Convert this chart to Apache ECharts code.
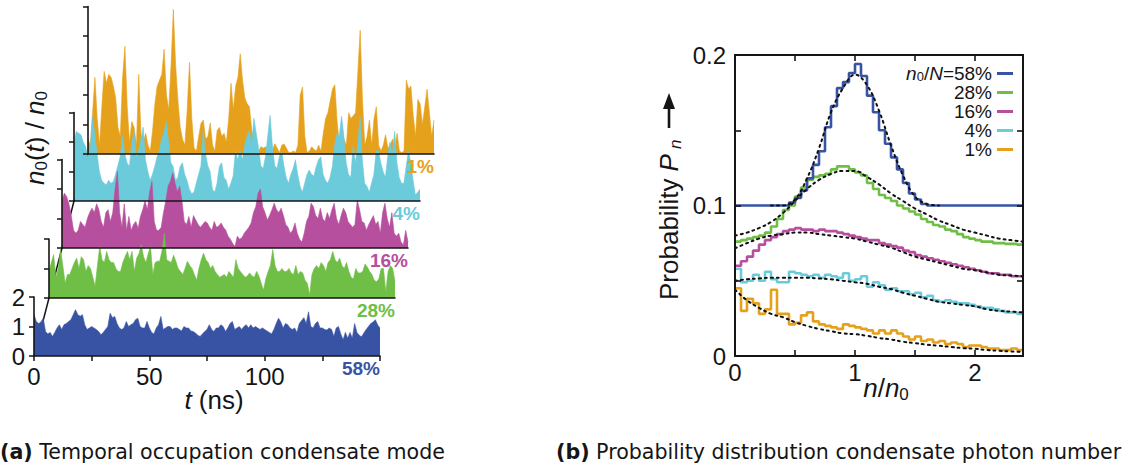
<!DOCTYPE html>
<html>
<head>
<meta charset="utf-8">
<script src="https://cdn.jsdelivr.net/npm/echarts@6/dist/echarts.min.js"></script>
<style>
  html, body { margin: 0; padding: 0; background: #ffffff; }
  #chart { width: 1130px; height: 470px; }
</style>
</head>
<body>
<div id="chart"></div>
<script>
// ---------- (a) condensate occupation n0(t)/n0, sampled every 1 ns from 0 to 150 ns ----------
const TIME_STEP_NS = 1;

const occ1 = [
  0.5,0.3,1.4,2.6,1.2,0.3,1.6,2.8,2.4,2.7,
  2.6,2.3,1.9,0.9,0.6,2.6,3.65,1.6,0.4,1.1,
  0.9,0.3,2.7,0.6,0.4,0.7,0.3,0.1,0.8,1.7,
  2.3,2.5,2.7,3.55,2.0,1.5,3.0,4.9,3.0,1.8,
  0.9,0.5,0.3,1.5,3.1,1.2,0.2,0.1,0.6,1.05,
  1.15,0.5,0.6,1.05,0.3,0.1,0.8,0.9,0.6,0.7,
  0.4,1.2,2.4,1.5,2.3,2.6,3.4,2.5,1.9,1.7,
  1.6,0.8,0.4,0.15,0.1,0.25,0.2,0.25,0.1,0.25,
  0.15,0.35,0.2,0.05,0.3,0.34,0.2,0.05,0.05,0.1,
  0.05,0.3,2.0,2.27,0.6,0.05,0.1,0.25,0.15,0.1,
  0.3,0.1,0.7,1.2,1.4,1.8,2.2,2.35,1.1,0.3,
  0.15,0.5,0.3,1.4,1.2,1.3,1.4,2.8,4.2,1.8,
  0.3,0.6,1.15,0.3,1.2,1.6,0.3,0.1,0.3,0.65,
  0.2,0.3,0.5,0.2,0.7,0.1,0.05,0.1,2.5,2.2,
  2.3,1.3,0.6,1.85,1.7,1.0,1.6,2.2,1.4,0.6,
  1.15
];

const occ4 = [
  2.0,2.36,2.3,2.25,2.0,1.85,1.5,1.7,2.87,2.3,
  1.6,1.0,0.7,0.6,0.55,0.7,0.6,0.65,0.9,1.2,
  1.5,2.2,1.6,1.3,1.17,1.9,2.4,1.5,1.7,2.1,
  2.5,1.4,1.0,0.7,0.9,1.17,1.5,1.7,2.1,2.3,
  2.7,2.0,1.3,1.17,0.7,0.8,1.17,1.3,0.9,0.7,
  0.4,0.25,0.3,0.6,0.9,1.17,2.4,1.6,1.2,1.0,
  0.4,0.3,0.6,1.17,1.3,0.8,0.7,0.4,0.6,0.85,
  1.7,1.4,1.7,1.4,1.9,2.2,2.4,1.9,2.8,2.3,
  1.8,1.2,1.1,1.5,2.2,2.9,1.9,1.2,1.1,1.5,
  1.7,1.2,0.8,0.6,0.9,1.1,1.4,0.9,0.5,0.3,
  0.6,0.9,1.05,0.9,0.85,1.17,1.4,1.5,0.9,0.7,
  0.6,0.8,1.17,1.9,2.3,2.2,2.87,2.2,1.3,0.9,
  0.8,1.9,1.3,1.9,2.87,1.4,0.6,0.5,0.3,0.6,
  0.9,1.7,1.7,1.3,1.0,0.8,1.5,2.0,1.6,2.36,
  1.3,0.8,0.6,0.6,1.17,1.7,1.3,0.7,0.2,0.3,
  0.4
];

const occ16 = [
  1.6,1.86,1.75,1.5,1.1,0.6,0.5,0.6,0.9,0.8,
  0.7,1.0,1.2,1.35,1.2,1.5,1.3,0.9,0.7,1.2,
  1.3,0.9,1.2,2.0,2.6,1.2,0.7,1.5,0.6,1.07,
  0.6,0.8,0.9,0.67,1.07,1.3,1.6,1.3,1.9,2.26,
  0.9,0.6,0.6,0.7,1.2,1.6,2.1,2.26,2.55,2.2,
  1.9,2.1,1.6,0.9,0.8,1.07,0.7,1.1,0.95,0.8,
  0.7,0.8,0.9,0.85,0.7,0.6,0.9,0.7,0.75,0.85,
  0.7,0.6,0.4,0.3,0.15,0.05,0.4,0.3,0.35,0.5,
  0.6,0.7,0.85,1.2,1.4,1.86,2.0,1.4,1.2,0.95,
  1.1,1.3,1.52,1.3,1.2,1.35,1.1,0.8,0.7,0.5,
  0.6,0.85,0.5,0.3,0.2,0.5,0.9,1.07,1.52,1.4,
  1.1,1.0,1.35,1.0,0.9,1.2,1.0,1.3,1.52,1.0,
  0.8,1.1,1.35,1.2,0.9,0.8,0.7,0.8,1.63,1.3,
  0.9,0.85,0.6,0.8,0.95,1.1,0.8,0.9,0.5,1.2,
  1.52,1.0,0.7,1.2,0.5,0.4,0.5,0.2,0.1,0.6,
  0.2
];

const occ28 = [
  0.9,1.2,1.47,0.7,1.0,1.64,1.1,0.5,0.8,0.8,
  1.0,1.2,1.35,1.0,1.4,1.3,0.9,1.1,1.0,0.7,
  0.4,1.1,1.75,1.3,1.2,1.58,1.3,1.2,1.2,1.0,
  0.9,0.9,1.2,1.4,1.58,1.3,1.58,0.9,1.35,1.5,
  1.8,1.4,1.2,1.5,1.75,0.8,1.2,1.25,1.25,1.6,
  2.2,1.3,1.25,1.2,1.45,1.25,1.0,0.9,0.8,1.0,
  1.25,1.1,1.0,0.8,0.6,1.0,1.3,1.52,1.3,1.2,
  1.0,1.1,0.9,0.8,0.7,0.75,0.8,0.7,0.9,0.8,
  0.7,1.3,1.0,0.9,0.8,0.7,0.75,0.85,0.75,0.7,
  0.9,0.75,0.5,0.27,0.65,0.9,1.1,1.64,1.1,0.9,
  0.9,1.0,0.9,0.9,1.0,0.85,0.8,1.1,0.8,0.9,
  0.85,0.6,0.5,0.1,0.8,1.0,1.1,1.0,1.2,1.1,
  0.9,1.2,1.3,1.58,1.3,1.2,1.35,1.1,1.0,1.2,
  0.9,0.7,0.65,1.0,0.85,0.85,0.9,1.15,1.05,0.9,
  0.8,0.6,0.55,0.65,1.0,1.0,0.2,0.9,1.1,1.0,
  0.55
];

const occ58 = [
  1.4,1.17,1.1,1.15,1.28,0.83,0.75,0.8,0.66,0.8,
  0.95,1.06,0.9,1.06,1.1,1.17,1.23,1.4,1.57,1.4,
  1.35,1.4,1.06,0.9,0.95,1.0,0.95,0.9,0.83,0.72,
  0.8,0.9,1.0,1.45,1.3,1.34,1.1,0.95,0.9,0.95,
  1.17,1.0,1.06,1.1,1.23,1.28,1.0,0.95,0.95,1.17,
  0.95,0.8,0.75,0.95,1.06,1.34,0.9,0.95,1.0,1.0,
  0.9,0.95,0.95,0.9,0.85,1.0,0.95,0.95,0.85,0.83,
  0.78,0.7,0.66,0.75,0.83,0.9,1.06,0.9,0.83,0.95,
  0.95,1.06,1.0,0.83,0.95,1.1,1.17,0.9,0.95,1.0,
  0.9,1.0,1.06,0.95,1.06,0.95,1.0,0.95,0.9,0.95,
  0.9,0.85,0.8,0.75,0.9,1.1,1.28,1.15,0.95,1.1,
  1.06,0.95,0.9,0.95,0.8,1.1,1.2,1.3,1.1,1.5,
  1.0,0.95,1.1,1.17,0.95,0.95,0.9,0.88,0.95,0.9,
  0.66,0.95,1.0,0.75,0.55,0.8,0.6,0.8,0.6,1.1,
  0.8,0.7,0.65,0.78,0.9,1.0,1.1,1.15,1.23,1.05,
  0.95
];

const traceNames = ['1%', '4%', '16%', '28%', '58%'];          // back to front
const traceValues = [occ1, occ4, occ16, occ28, occ58];
const timeTicks = [0, 50, 100];
const occTicksMax = [5, 3, 3, 2, 2];

// ---------- (b) photon number distributions, histogram bins of width 0.05 in n/n0 ----------
const binEdges = [
  0,0.05,0.1,0.15,0.2,0.25,0.3,0.35,0.4,0.45,0.5,0.55,0.6,0.65,0.7,0.75,
  0.8,0.85,0.9,0.95,1,1.05,1.1,1.15,1.2,1.25,1.3,1.35,1.4,1.45,1.5,1.55,
  1.6,1.65,1.7,1.75,1.8,1.85,1.9,1.95,2,2.05,2.1,2.15,2.2,2.25,2.3,2.35,2.4
];

const hist58 = [
  0.1,0.1,0.1,0.1,0.1,0.1,0.1,0.1,0.1,0.102,
  0.105,0.110,0.118,0.127,0.136,0.152,0.166,0.178,0.182,0.188,
  0.194,0.186,0.173,0.162,0.150,0.141,0.132,0.124,0.115,0.108,
  0.104,0.101,0.1,0.1,0.1,0.1,0.1,0.1,0.1,0.1,
  0.1,0.1,0.1,0.1,0.1,0.1,0.1,0.1
];
const hist28 = [
  0.076,0.077,0.078,0.079,0.080,0.082,0.086,0.091,0.097,0.100,
  0.106,0.112,0.117,0.119,0.120,0.121,0.124,0.126,0.126,0.124,
  0.122,0.120,0.115,0.111,0.107,0.105,0.103,0.100,0.098,0.096,
  0.094,0.091,0.089,0.087,0.086,0.084,0.083,0.081,0.079,0.078,
  0.077,0.076,0.076,0.075,0.075,0.0745,0.0745,0.074
];
const hist16 = [
  0.060,0.063,0.066,0.070,0.074,0.077,0.079,0.081,0.083,0.084,
  0.085,0.084,0.084,0.083,0.084,0.083,0.083,0.082,0.081,0.080,
  0.079,0.078,0.077,0.077,0.075,0.074,0.073,0.072,0.070,0.069,
  0.067,0.066,0.065,0.064,0.063,0.062,0.061,0.060,0.059,0.058,
  0.057,0.056,0.055,0.055,0.054,0.054,0.053,0.053
];
const hist4 = [
  0.058,0.049,0.050,0.054,0.050,0.056,0.051,0.049,0.049,0.056,
  0.055,0.054,0.053,0.054,0.052,0.054,0.053,0.052,0.055,0.050,
  0.051,0.053,0.046,0.049,0.047,0.044,0.045,0.043,0.043,0.041,
  0.042,0.039,0.040,0.037,0.036,0.037,0.036,0.035,0.035,0.034,
  0.033,0.032,0.032,0.031,0.030,0.029,0.029,0.028
];
const hist1 = [
  0.045,0.030,0.038,0.035,0.028,0.031,0.044,0.028,0.028,0.021,
  0.022,0.027,0.029,0.023,0.021,0.020,0.019,0.018,0.021,0.020,
  0.019,0.018,0.017,0.015,0.017,0.015,0.017,0.015,0.013,0.011,
  0.013,0.010,0.011,0.009,0.010,0.008,0.009,0.008,0.006,0.007,
  0.007,0.006,0.005,0.005,0.004,0.004,0.005,0.004
];

// theory curves, sampled every 0.1 in n/n0
const fitX = [0,0.1,0.2,0.3,0.4,0.5,0.6,0.7,0.8,0.9,1,1.1,1.2,1.3,1.4,1.5,1.6,1.7,1.8,1.9,2,2.1,2.2,2.3,2.4];
const fit58 = [null,null,null,0.1,0.1,0.104,0.118,0.138,0.162,0.178,0.187,0.180,0.163,0.140,0.120,0.106,0.101,0.1,null,null,null,null,null,null,null];
const fit28 = [0.080,0.082,0.085,0.089,0.095,0.103,0.111,0.117,0.121,0.123,0.123,0.119,0.114,0.108,0.103,0.098,0.094,0.090,0.087,0.084,0.082,0.080,0.078,0.077,0.076];
const fit16 = [0.0716,0.075,0.078,0.080,0.081,0.082,0.082,0.081,0.080,0.079,0.078,0.076,0.074,0.072,0.069,0.066,0.064,0.062,0.060,0.058,0.057,0.0555,0.054,0.0535,0.053];
const fit4 = [0.050,0.051,0.0515,0.052,0.052,0.052,0.052,0.0515,0.051,0.050,0.049,0.048,0.046,0.0445,0.042,0.040,0.038,0.036,0.035,0.034,0.033,0.031,0.030,0.0295,0.029];
const fit1 = [0.044,0.037,0.032,0.028,0.0257,0.0225,0.020,0.018,0.0165,0.015,0.0145,0.0134,0.012,0.011,0.0095,0.0085,0.0075,0.0068,0.006,0.0052,0.0048,0.004,0.0035,0.003,0.0027];

const histNames = ['58%', '28%', '16%', '4%', '1%'];
const histValues = [hist58, hist28, hist16, hist4, hist1];
const fitValues = [fit58, fit28, fit16, fit4, fit1];

// ---------- styling & layout ----------
const FONT = '"Liberation Sans", Arial, Helvetica, sans-serif';
const CAPTION_FONT = '"DejaVu Sans", sans-serif';
const CAPTION_SIZE = 20.6;
const INK = '#151515';
const COLORS = { '1%': '#E5A11C', '4%': '#6BCBDB', '16%': '#B6509E', '28%': '#6FBE46', '58%': '#3953A4' };

// waterfall panel: each trace gets its own grid, shifted right and up
const PX_PER_UNIT = 29.5;
const TRACE_W = 346;
const TRACE_LEFT = [88, 74, 62, 49, 34];
const TRACE_BASE = [154, 201, 248, 298, 356];
const FRONT = traceNames.length - 1;

const HIST_GRID = { left: 735, top: 55, width: 288, height: 301 };

const grid = [];
const xAxis = [];
const yAxis = [];
const series = [];

traceNames.forEach((name, i) => {
  const isFront = i === FRONT;
  const h = occTicksMax[i] * PX_PER_UNIT;
  grid.push({ left: TRACE_LEFT[i], top: TRACE_BASE[i] - h, width: TRACE_W, height: h,
              containLabel: false, outerBoundsMode: 'none' });
  xAxis.push({
    gridIndex: i, type: 'value', min: 0, max: 150, interval: 25, z: 30,
    axisLine: { show: true, onZero: false, lineStyle: { color: INK, width: 1.6 } },
    axisTick: { show: isFront, inside: false, length: 5, lineStyle: { color: INK, width: 1.5 } },
    axisLabel: {
      show: isFront, margin: 8, color: INK, fontFamily: FONT, fontSize: 24,
      formatter: v => (timeTicks.indexOf(v) >= 0 ? String(v) : '')
    },
    splitLine: { show: false },
    name: name, nameLocation: 'end', nameGap: 0, nameMoveOverlap: false,
    nameTextStyle: {
      color: COLORS[name], fontFamily: FONT, fontSize: 19, fontWeight: 'bold',
      align: 'right', verticalAlign: 'top', padding: [3, 0, 0, 0]
    }
  });
  yAxis.push({
    gridIndex: i, type: 'value', min: 0, max: occTicksMax[i], interval: 1, z: 30,
    axisLine: { show: true, onZero: false, lineStyle: { color: INK, width: 1.6 } },
    axisTick: { show: true, inside: false, length: 5, lineStyle: { color: INK, width: 1.5 } },
    axisLabel: { show: isFront, margin: 9, color: INK, fontFamily: FONT, fontSize: 24 },
    splitLine: { show: false }
  });
  series.push({
    name: 'trace ' + name, type: 'line', xAxisIndex: i, yAxisIndex: i,
    data: traceValues[i].map((v, k) => [k * TIME_STEP_NS, v]),
    symbol: 'none', clip: false, silent: true, z: 2 + i, animation: false,
    color: COLORS[name],
    lineStyle: { color: COLORS[name], width: 0.6 },
    areaStyle: { color: COLORS[name], opacity: 1 }
  });
});

// histogram panel: framed box with inward ticks on all four sides
const HG = traceNames.length;
grid.push(Object.assign({ containLabel: false, outerBoundsMode: 'none' }, HIST_GRID));
const frameLine = { show: true, onZero: false, lineStyle: { color: INK, width: 2 } };
const frameTick = { show: true, inside: true, length: 6, lineStyle: { color: INK, width: 1.6 } };
xAxis.push({
  gridIndex: HG, type: 'value', min: 0, max: 2.4, interval: 0.5, position: 'bottom', z: 30,
  axisLine: frameLine, axisTick: frameTick, splitLine: { show: false },
  axisLabel: { margin: 4, color: INK, fontFamily: FONT, fontSize: 24,
               formatter: v => (Math.abs(v - Math.round(v)) < 1e-9 ? String(Math.round(v)) : '') }
});
xAxis.push({
  gridIndex: HG, type: 'value', min: 0, max: 2.4, interval: 0.5, position: 'top', z: 30,
  axisLine: frameLine, axisTick: frameTick, splitLine: { show: false }, axisLabel: { show: false }
});
yAxis.push({
  gridIndex: HG, type: 'value', min: 0, max: 0.2, interval: 0.05, position: 'left', z: 30,
  axisLine: frameLine, axisTick: frameTick, splitLine: { show: false },
  axisLabel: { margin: 9, color: INK, fontFamily: FONT, fontSize: 24,
               formatter: v => { const k = Math.round(v * 20); return (k % 2 === 0) ? String(k / 20) : ''; } }
});
yAxis.push({
  gridIndex: HG, type: 'value', min: 0, max: 0.2, interval: 0.05, position: 'right', z: 30,
  axisLine: frameLine, axisTick: frameTick, splitLine: { show: false }, axisLabel: { show: false }
});

const HX = traceNames.length;      // bottom x axis of the histogram grid
const HY = traceNames.length;      // left y axis of the histogram grid

histNames.slice().reverse().forEach((name) => {
  const vals = histValues[histNames.indexOf(name)];
  series.push({
    name: name, type: 'line', xAxisIndex: HX, yAxisIndex: HY, step: 'end',
    data: binEdges.map((e, k) => [e, vals[Math.min(k, vals.length - 1)]]),
    symbol: 'none', silent: true, z: 3, animation: false,
    color: COLORS[name], itemStyle: { color: COLORS[name] },
    lineStyle: { color: COLORS[name], width: 2.6 }
  });
});
histNames.forEach((name, idx) => {
  series.push({
    name: 'fit ' + name, type: 'line', xAxisIndex: HX, yAxisIndex: HY, smooth: 0.4,
    data: fitX.map((x, k) => [x, fitValues[idx][k]]),
    symbol: 'none', silent: true, z: 4, animation: false, connectNulls: false,
    lineStyle: { color: '#111111', width: 2, type: [2, 4], cap: 'round' }
  });
});

// perspective line joining the origins of the stacked traces
const originLine = TRACE_LEFT.map((x, i) => [x, TRACE_BASE[i]]);

const sub = { fontSize: 17, lineHeight: 17, verticalAlign: 'bottom', fontFamily: FONT, fill: INK };
const ital = { fontStyle: 'italic', fontSize: 26, lineHeight: 30, fontFamily: FONT, fill: INK };
const captionRich = { b: { fontWeight: 'bold', fontSize: CAPTION_SIZE, fontFamily: CAPTION_FONT, fill: INK } };

const graphic = [
  { type: 'polyline', z: 1, silent: true, shape: { points: originLine },
    style: { stroke: INK, lineWidth: 1.5, fill: null } },
  { type: 'text', x: 35, y: 138, rotation: Math.PI / 2, silent: true,
    style: { text: '{i|n}{s|0}({i|t}) / {i|n}{s|0}', fontSize: 26, lineHeight: 30, fontFamily: FONT, fill: INK,
             align: 'center', verticalAlign: 'middle', rich: { i: ital, s: sub } } },
  { type: 'text', x: 214, y: 400, silent: true,
    style: { text: '{i|t} (ns)', fontSize: 26, lineHeight: 30, fontFamily: FONT, fill: INK,
             align: 'center', verticalAlign: 'middle', rich: { i: ital } } },
  { type: 'text', x: 886, y: 388, silent: true,
    style: { text: '{i|n}/{i|n}{s|0}', fontSize: 26, lineHeight: 30, fontFamily: FONT, fill: INK,
             align: 'center', verticalAlign: 'middle', rich: { i: ital, s: sub } } },
  { type: 'group', x: 669, y: 300, rotation: Math.PI / 2, silent: true, children: [
      { type: 'text', x: 0, y: 0,
        style: { text: 'Probability {i|P}{s|n}', fontSize: 26, lineHeight: 30, fontFamily: FONT, fill: INK,
                 align: 'left', verticalAlign: 'middle', rich: { i: ital, s: Object.assign({}, sub, { fontStyle: 'italic', padding: [0, 0, 0, 5] }) } } },
      { type: 'line', shape: { x1: 172, y1: 0, x2: 196, y2: 0 }, style: { stroke: INK, lineWidth: 2.6 } },
      { type: 'polygon', shape: { points: [[191, -6], [207, 0], [191, 6]] }, style: { fill: INK } }
  ] },
  { type: 'text', x: 0, y: 452, silent: true,
    style: { text: '{b|(a)} Temporal occupation condensate mode', fontSize: CAPTION_SIZE, fontFamily: CAPTION_FONT, fill: INK,
             align: 'left', verticalAlign: 'middle', rich: captionRich } },
  { type: 'text', x: 556, y: 452, silent: true,
    style: { text: '{b|(b)} Probability distribution condensate photon number', fontSize: CAPTION_SIZE, fontFamily: CAPTION_FONT, fill: INK,
             align: 'left', verticalAlign: 'middle', rich: captionRich } }
];

const chart = echarts.init(document.getElementById('chart'), null, { renderer: 'svg' });
chart.setOption({
  animation: false,
  backgroundColor: '#ffffff',
  grid: grid,
  xAxis: xAxis,
  yAxis: yAxis,
  series: series,
  legend: {
    data: histNames, orient: 'vertical', align: 'right', right: 117, top: 64,
    padding: 0, itemGap: 0, itemWidth: 16, itemHeight: 3, icon: 'rect', selectedMode: false,
    formatter: name => (name === '58%' ? '{i|n}{s|0}/{i|N}=58%' : name),
    textStyle: {
      color: INK, fontFamily: FONT, fontSize: 19, lineHeight: 18,
      rich: {
        i: { fontStyle: 'italic', fontSize: 19, lineHeight: 18, fontFamily: FONT, color: INK },
        s: { fontSize: 13, lineHeight: 13, verticalAlign: 'bottom', fontFamily: FONT, color: INK }
      }
    }
  },
  graphic: graphic
});
</script>
</body>
</html>
